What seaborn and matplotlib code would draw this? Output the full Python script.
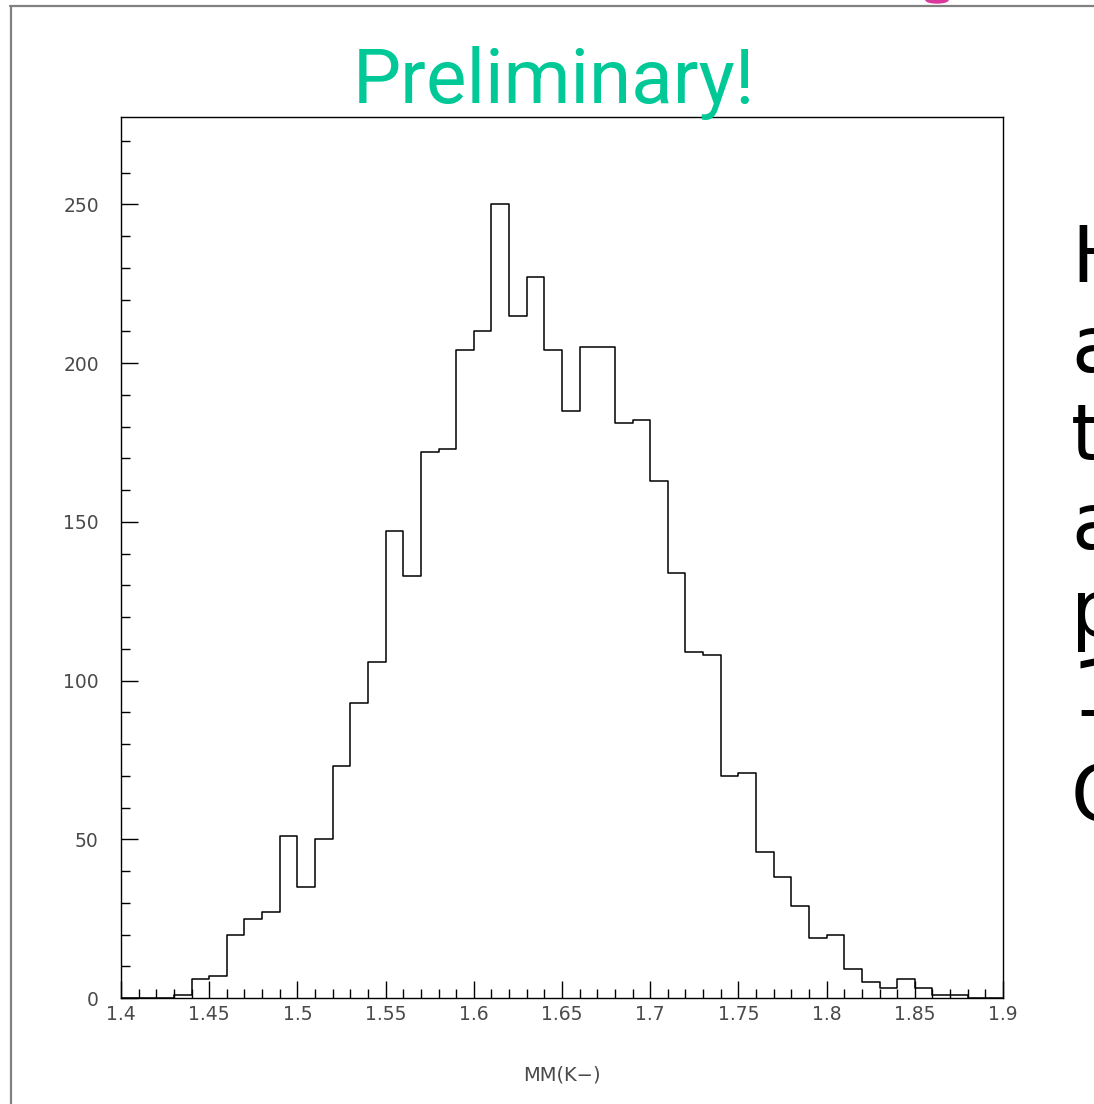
import numpy as np
import pandas as pd
import matplotlib
matplotlib.use("Agg")
import matplotlib.pyplot as plt
from matplotlib.lines import Line2D
from matplotlib.patches import Ellipse
from matplotlib.ticker import MultipleLocator, FuncFormatter
import seaborn as sns

# Missing-mass histogram, 50 bins of 0.01 between 1.40 and 1.90
bin_edges = np.round(np.arange(1.40, 1.9001, 0.01), 2)
counts = [0, 0, 0, 1, 6, 7, 20, 25, 27, 51,
          35, 50, 73, 93, 106, 147, 133, 172, 173, 204,
          210, 250, 215, 227, 204, 185, 205, 205, 181, 182,
          163, 134, 109, 108, 70, 71, 46, 38, 29, 19,
          20, 9, 5, 3, 6, 3, 1, 1, 0, 0]
x_label = "MM(K\u2212)"
title_text = "Preliminary!"
side_letters = ["H", "a", "t", "a", "p", "1", "G"]

sns.set_theme(style="white")
tick_family = ["DejaVu Sans"]

W, H = 1094, 1104
fig = plt.figure(figsize=(W / 100, H / 100), dpi=100)
ax = fig.add_axes([121 / W, 1 - 998 / H, (1003 - 121) / W, (998 - 116.5) / H])

centers = (bin_edges[:-1] + bin_edges[1:]) / 2
df = pd.DataFrame({"mm": centers, "n": np.asarray(counts, dtype=float)})
sns.histplot(data=df, x="mm", weights="n", bins=list(bin_edges), element="step",
             fill=False, color="black", linewidth=1.1, ax=ax)

ax.set_xlim(1.4, 1.9)
ax.set_ylim(0, 277.7)
ax.xaxis.set_major_locator(MultipleLocator(0.05))
ax.xaxis.set_minor_locator(MultipleLocator(0.01))
ax.yaxis.set_major_locator(MultipleLocator(50))
ax.yaxis.set_minor_locator(MultipleLocator(10))
ax.xaxis.set_major_formatter(FuncFormatter(lambda v, p: f"{round(v, 2):g}"))
ax.yaxis.set_major_formatter(FuncFormatter(lambda v, p: f"{int(round(v))}"))

ax.tick_params(axis="both", which="both", direction="in", colors="black",
               width=1.0, left=True, bottom=True, right=False, top=False)
ax.tick_params(axis="both", which="major", length=12)
ax.tick_params(axis="both", which="minor", length=6.5)
ax.tick_params(axis="y", which="major", pad=16)
ax.tick_params(axis="x", which="major", pad=5)
for lab in ax.get_xticklabels() + ax.get_yticklabels():
    lab.set_family(tick_family)
    lab.set_fontweight("normal")
    lab.set_fontsize(13.5)
    lab.set_color("#4a4a4a")

for s in ax.spines.values():
    s.set_color("black")
    s.set_linewidth(1.0)
    s.set_visible(True)

ax.set_xlabel(x_label, family=tick_family, fontsize=14,
              color="#4a4a4a", labelpad=30)
ax.set_ylabel("")

# Title above the frame
fig.text(554 / W, 1 - 103 / H, title_text, ha="center", va="baseline",
         fontsize=55, color="#00C897", family=["Roboto", "DejaVu Sans"])

# Slide frame lines
fig.add_artist(Line2D([11 / W, 11 / W], [1 - 6 / H, 0], color="#808080",
                      linewidth=1.6, transform=fig.transFigure))
fig.add_artist(Line2D([10 / W, 1], [1 - 6 / H, 1 - 6 / H], color="#808080",
                      linewidth=1.6, transform=fig.transFigure))
fig.add_artist(Ellipse((937 / W, 1 - 0 / H), 22 / W, 6 / H, color="#D8389B",
                       transform=fig.transFigure))

# Side text running off the right edge
baselines = [282, 372, 460, 549, 636, 716, 821]
for letter, yb in zip(side_letters, baselines):
    fig.text(1071 / W, 1 - yb / H, letter, ha="left", va="baseline",
             fontsize=56, color="black", family=["DejaVu Sans"])

fig.savefig("out.png", dpi=100)
